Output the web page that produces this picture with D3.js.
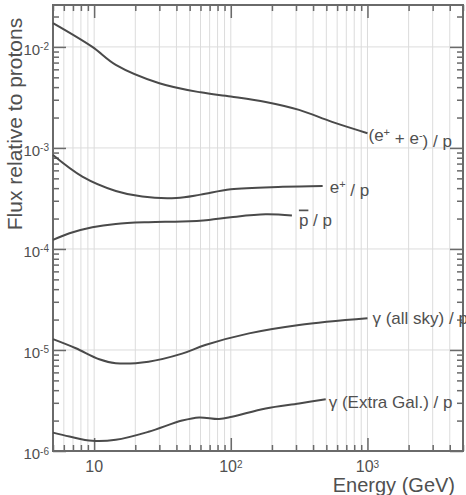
<!DOCTYPE html>
<html>
<head>
<meta charset="utf-8">
<script src="https://cdn.jsdelivr.net/npm/d3@7"></script>
<style>
  body { margin: 0; background: #fff; }
  text { font-family: "Liberation Sans", Arial, sans-serif; fill: #505050; }
</style>
</head>
<body>
<div id="chart"></div>
<script>
// Data (energy in GeV, flux relative to protons)
const electronsE    = [5, 9.7, 14.4, 30, 60, 100, 180, 316, 550, 1000]
const electronsFlux = [0.0172, 0.0100, 0.00664, 0.00437, 0.00355, 0.00323, 0.00285, 0.00238, 0.00181, 0.0014]

const positronE    = [5, 8.2, 14.4, 22.5, 40, 60, 100, 240, 470]
const positronFlux = [8.5e-4, 5.2e-4, 3.75e-4, 3.3e-4, 3.2e-4, 3.45e-4, 3.9e-4, 4.12e-4, 4.2e-4]

const pbarE    = [5, 6.6, 9.7, 14.4, 25, 44, 69, 100, 180, 280]
const pbarFlux = [1.23e-4, 1.43e-4, 1.64e-4, 1.77e-4, 1.84e-4, 1.87e-4, 1.94e-4, 2.06e-4, 2.2e-4, 2.14e-4]

const gammaSkyE    = [5, 7.35, 10.9, 14.4, 25, 44, 65, 136, 316, 1000]
const gammaSkyFlux = [1.28e-5, 1.04e-5, 8.1e-6, 7.4e-6, 7.66e-6, 9.2e-6, 1.12e-5, 1.46e-5, 1.77e-5, 2.06e-5]

const gammaEgE    = [5, 6.6, 9.7, 14.4, 25, 44, 58.6, 82, 102, 180, 316, 495]
const gammaEgFlux = [1.52e-6, 1.39e-6, 1.26e-6, 1.29e-6, 1.55e-6, 2.0e-6, 2.15e-6, 2.07e-6, 2.18e-6, 2.64e-6, 2.96e-6, 3.25e-6]

// Curve labels: [text, kind] pieces
const electronsLabel = [["(e", ""], ["+", "sup"], [" + e", ""], ["-", "sup"], [") / p", ""]]
const positronLabel  = [["e", ""], ["+", "sup"], [" / p", ""]]
const pbarLabel      = [["p", "bar"], [" / p", ""]]
const gammaSkyLabel  = [["\u03b3 (all sky) / p", ""]]
const gammaEgLabel   = [["\u03b3 (Extra Gal.) / p", ""]]

const xMajor = [10, 100, 1000]
const xMajorLabels = [["10", ""], ["10", "2"], ["10", "3"]]
const yMajor = [1e-2, 1e-3, 1e-4, 1e-5, 1e-6]
const yMajorLabels = [["10", "-2"], ["10", "-3"], ["10", "-4"], ["10", "-5"], ["10", "-6"]]

const xTitle = "Energy (GeV)"
const yTitle = "Flux relative to protons"

// Chart parameters
const WIDTH = 466
const HEIGHT = 495
const PLOT = {LEFT:53, RIGHT:463, TOP:5, BOTTOM:451}
const FRAME = "#6a6a6a"
const GRID = "#dcdcdc"

let svg = d3.select("#chart").append("svg")
    .attr("width", WIDTH)
    .attr("height", HEIGHT)

let xScale = d3.scaleLog()
    .domain([5, 5000])
    .range([PLOT.LEFT, PLOT.RIGHT])

let yScale = d3.scaleLog()
    .domain([1e-6, 0.026])
    .range([PLOT.BOTTOM, PLOT.TOP])

// minor / major tick values from the scales
let xAll = xScale.ticks()
let xMinor = xAll.filter(v => !xMajor.includes(v))
let yAll = yScale.ticks()
let yMinor = yAll.filter(v => !yMajor.some(m => Math.abs(m - v) / m < 1e-9))

// Vertical gridlines at every tick, horizontal ones at decades
svg.append("g")
    .selectAll("line")
    .data(xAll)
    .enter()
    .append("line")
    .attr("x1", d => xScale(d))
    .attr("x2", d => xScale(d))
    .attr("y1", PLOT.TOP)
    .attr("y2", PLOT.BOTTOM)
    .style("stroke", GRID)
    .style("stroke-width", 1)

svg.append("g")
    .selectAll("line")
    .data(yMajor)
    .enter()
    .append("line")
    .attr("x1", PLOT.LEFT)
    .attr("x2", PLOT.RIGHT)
    .attr("y1", d => yScale(d))
    .attr("y2", d => yScale(d))
    .style("stroke", GRID)
    .style("stroke-width", 1)

// Inward ticks on all four sides, drawn with d3 axes
function addAxis(axisFn, scale, values, size, transform) {
    let g = svg.append("g")
        .attr("transform", transform)
        .call(axisFn(scale).tickValues(values).tickSize(size).tickFormat(""))
    g.select(".domain").remove()
    g.selectAll(".tick line").style("stroke", FRAME).style("stroke-width", 1.5)
}
addAxis(d3.axisBottom, xScale, xMinor, -6, "translate(0," + PLOT.BOTTOM + ")")
addAxis(d3.axisBottom, xScale, xMajor, -13, "translate(0," + PLOT.BOTTOM + ")")
addAxis(d3.axisTop, xScale, xMinor, -6, "translate(0," + PLOT.TOP + ")")
addAxis(d3.axisTop, xScale, xMajor, -13, "translate(0," + PLOT.TOP + ")")
addAxis(d3.axisLeft, yScale, yMinor, -6, "translate(" + PLOT.LEFT + ",0)")
addAxis(d3.axisLeft, yScale, yMajor, -13, "translate(" + PLOT.LEFT + ",0)")
addAxis(d3.axisRight, yScale, yMinor, -6, "translate(" + PLOT.RIGHT + ",0)")
addAxis(d3.axisRight, yScale, yMajor, -13, "translate(" + PLOT.RIGHT + ",0)")

// Frame
svg.append("rect")
    .attr("x", PLOT.LEFT)
    .attr("y", PLOT.TOP)
    .attr("width", PLOT.RIGHT - PLOT.LEFT)
    .attr("height", PLOT.BOTTOM - PLOT.TOP)
    .style("fill", "none")
    .style("stroke", FRAME)
    .style("stroke-width", 2)

// Tick labels with superscripts
function powerLabel(sel, parts, supSize) {
    sel.append("tspan").text(parts[0])
    if (parts[1]) {
        sel.append("tspan")
            .attr("dy", "-0.45em")
            .style("font-size", supSize)
            .text(parts[1])
    }
}

xMajor.forEach((v, i) => {
    let t = svg.append("text")
        .attr("x", xScale(v))
        .attr("y", 472)
        .attr("text-anchor", "middle")
        .style("font-size", "16px")
    powerLabel(t, xMajorLabels[i], "10px")
})

yMajor.forEach((v, i) => {
    let t = svg.append("text")
        .attr("x", 49)
        .attr("y", yScale(v) + 8)
        .attr("text-anchor", "end")
        .style("font-size", "15px")
    powerLabel(t, yMajorLabels[i], "10px")
})

// Axis titles
svg.append("text")
    .attr("x", 455)
    .attr("y", 492)
    .attr("text-anchor", "end")
    .style("font-size", "20px")
    .text(xTitle)

svg.append("text")
    .attr("transform", "translate(22,124) rotate(-90)")
    .attr("text-anchor", "middle")
    .style("font-size", "21px")
    .text(yTitle)

// Curves
let line = d3.line()
    .x(d => xScale(d[0]))
    .y(d => yScale(d[1]))
    .curve(d3.curveCatmullRom.alpha(0.5))

const series = [
    {e: electronsE, f: electronsFlux, label: electronsLabel, dx: 1, dy: 2},
    {e: positronE, f: positronFlux, label: positronLabel, dx: 7, dy: 1},
    {e: pbarE, f: pbarFlux, label: pbarLabel, dx: 7, dy: 4},
    {e: gammaSkyE, f: gammaSkyFlux, label: gammaSkyLabel, dx: 5, dy: 0},
    {e: gammaEgE, f: gammaEgFlux, label: gammaEgLabel, dx: 3, dy: 3}
]

series.forEach(s => {
    let pts = d3.zip(s.e, s.f)
    svg.append("path")
        .datum(pts)
        .attr("d", line)
        .style("fill", "none")
        .style("stroke", "#4a4a4a")
        .style("stroke-width", 2)

    let last = pts[pts.length - 1]
    let t = svg.append("text")
        .attr("x", xScale(last[0]) + s.dx)
        .attr("y", yScale(last[1]) + s.dy)
        .attr("dy", "0.35em")
        .style("font-size", "17px")
    let prevSup = false
    s.label.forEach(p => {
        let ts = t.append("tspan").text(p[0])
        if (p[1] === "sup") {
            ts.attr("dy", "-0.45em").style("font-size", "11px")
        } else {
            if (prevSup) ts.attr("dy", "0.45em")   // back to the baseline
            if (p[1] === "bar") ts.style("text-decoration", "overline")
        }
        prevSup = p[1] === "sup"
    })
})
</script>
</body>
</html>
